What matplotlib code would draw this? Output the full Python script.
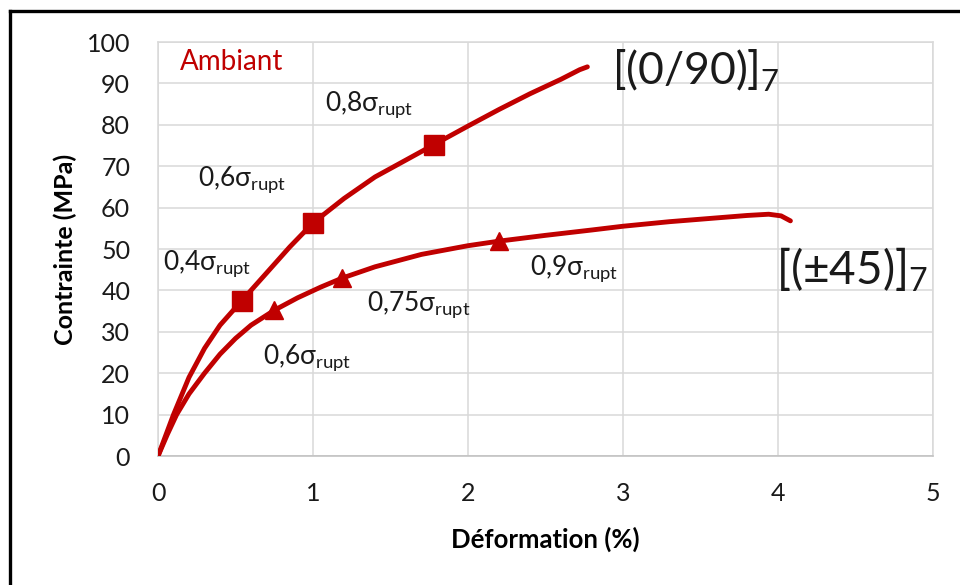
import matplotlib
matplotlib.use("Agg")
import matplotlib.pyplot as plt
from matplotlib.lines import Line2D

# -----------------------------
# DATA
# -----------------------------
# [(0/90)]7 curve
strain_090 = [0, 0.05, 0.1, 0.2, 0.3, 0.4, 0.54, 0.7, 0.85, 1.0, 1.2, 1.4,
              1.6, 1.78, 2.0, 2.2, 2.4, 2.6, 2.72, 2.77]
stress_090 = [0, 5.0, 10.0, 19.0, 26.0, 31.6, 37.5, 44.2, 50.5, 56.3, 62.2,
              67.4, 71.5, 75.2, 79.7, 83.7, 87.5, 91.0, 93.3, 94.0]

# [(±45)]7 curve
strain_45 = [0, 0.06, 0.12, 0.2, 0.3, 0.4, 0.5, 0.6, 0.75, 0.9, 1.05, 1.19,
             1.4, 1.7, 2.0, 2.2, 2.5, 2.8, 3.0, 3.3, 3.6, 3.8, 3.94, 4.02, 4.08]
stress_45 = [0, 5.2, 10, 15, 20, 24.6, 28.4, 31.6, 35.2, 38.2, 40.8, 43.0,
             45.7, 48.7, 50.8, 51.9, 53.3, 54.6, 55.5, 56.6, 57.5, 58.1, 58.4,
             58.0, 56.8]

# markers (load levels)
sq_strain = [0.54, 1.0, 1.78]
sq_stress = [37.5, 56.3, 75.2]
tri_strain = [0.75, 1.19, 2.2]
tri_stress = [35.2, 43.0, 51.9]

# annotations
ann_text = ["0,4", "0,6", "0,8", "0,6", "0,75", "0,9"]
ann_x = [0.03, 0.26, 1.08, 0.68, 1.35, 2.4]
ann_y = [46.4, 66.7, 84.8, 23.9, 36.5, 45.4]

x_ticks = [0, 1, 2, 3, 4, 5]
y_ticks = list(range(0, 101, 10))

RED = "#C00000"
GRID = "#d9d9d9"

plt.rcParams["font.family"] = ["Lato", "DejaVu Sans"]
plt.rcParams["mathtext.fontset"] = "custom"
plt.rcParams["mathtext.rm"] = "Lato"

# -----------------------------
# FIGURE
# -----------------------------
fig = plt.figure(figsize=(9.6, 5.85), dpi=100)
ax = fig.add_axes([0.1646, 0.2205, 0.8073, 0.7077])

ax.plot(strain_090, stress_090, color=RED, lw=3.5, solid_capstyle="round", zorder=3)
ax.plot(strain_45, stress_45, color=RED, lw=3.5, solid_capstyle="round", zorder=3)
ax.plot(sq_strain, sq_stress, ls="none", marker="s", ms=14, color=RED, zorder=4)
ax.plot(tri_strain, tri_stress, ls="none", marker="^", ms=13, color=RED, zorder=4)

for t, x, y in zip(ann_text, ann_x, ann_y):
    ax.text(x, y, t + "σ$_{\\mathregular{rupt}}$", fontsize=19, color="#1a1a1a",
            ha="left", va="center")

ax.text(0.14, 95.2, "Ambiant", fontsize=20, color=RED, ha="left", va="center")
ax.text(2.93, 93.0, "[(0/90)]$_{\\mathregular{7}}$", fontsize=32, color="#1a1a1a",
        ha="left", va="center")
ax.text(3.99, 45.0, "[(±45)]$_{\\mathregular{7}}$", fontsize=33, color="#1a1a1a",
        ha="left", va="center")

# -----------------------------
# AXES STYLE
# -----------------------------
ax.set_xlim(0, 5)
ax.set_ylim(0, 100)
ax.set_xticks(x_ticks)
ax.set_yticks(y_ticks)
ax.grid(True, color=GRID, lw=1.1)
ax.set_axisbelow(True)
ax.tick_params(length=0, labelsize=18, labelcolor="#1a1a1a")
ax.tick_params(axis="x", pad=19)
ax.tick_params(axis="y", pad=20)
for s in ax.spines.values():
    s.set_color(GRID)
    s.set_linewidth(1.1)
ax.spines["bottom"].set_color("#bfbfbf")

ax.set_xlabel("Déformation (%)", fontsize=18.5, fontweight="bold")
ax.set_ylabel("Contrainte (MPa)", fontsize=18, fontweight="bold")
ax.xaxis.set_label_coords(0.50, -0.170)
ax.yaxis.set_label_coords(-0.105, 0.5)

# frame around the picture (only top and left are visible)
fig.add_artist(Line2D([0.0104, 1.0], [0.9812, 0.9812], color="black", lw=2.4))
fig.add_artist(Line2D([0.0104, 0.0104], [0.0, 0.9812], color="black", lw=2.4))

fig.savefig("out.png", dpi=100)
